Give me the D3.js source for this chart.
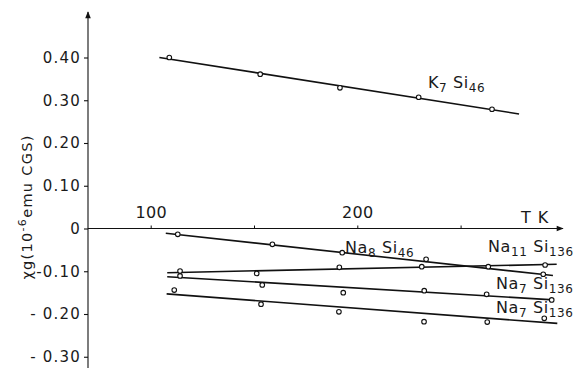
<!DOCTYPE html>
<html>
<head>
<meta charset="utf-8">
<script src="https://cdn.jsdelivr.net/npm/d3@7/dist/d3.min.js"></script>
<style>
  html, body { margin: 0; padding: 0; background: #fff; }
  svg { display: block; }
  text { font-family: "DejaVu Sans", sans-serif; fill: #1a1a1a; }
</style>
</head>
<body>
<svg id="chart" width="574" height="368"></svg>
<script>
// Magnetic susceptibility of silicon clathrates vs temperature

// Tick values and labels
const yTicks = [0.40, 0.30, 0.20, 0.10, 0, -0.10, -0.20, -0.30];
const yTickLabels = ["0.40", "0.30", "0.20", "0.10", "0", "-0.10", "- 0.20", "- 0.30"];
const xTicks = [100, 150, 200, 250];
const xTickLabels = ["100", "", "200", ""];

// K7Si46
const k7T   = [109, 153, 191.6, 229.7, 265.2];
const k7Chi = [0.400, 0.361, 0.329, 0.307, 0.279];
const k7Fit = [[104.2, 0.400], [278.3, 0.268]];

// Na8Si46
const na8T   = [113.1, 158.9, 192.7, 233.3, 290.0];
const na8Chi = [-0.0136, -0.037, -0.0566, -0.072, -0.107];
const na8Fit = [[107.3, -0.0112], [294.7, -0.110]];

// Na11Si136
const na11T   = [114.2, 151.3, 191.3, 231.2, 263.4, 290.9];
const na11Chi = [-0.0994, -0.105, -0.0908, -0.0894, -0.0894, -0.0854];
const na11Fit = [[108, -0.1034], [296.5, -0.0837]];

// Na7Si136
const na7T   = [114.2, 154, 193.2, 232.4, 262.6, 294.1];
const na7Chi = [-0.111, -0.132, -0.150, -0.1455, -0.154, -0.167];
const na7Fit = [[108, -0.1127], [294.9, -0.167]];

// lowest Si136 series
const naLowT   = [111.4, 153.4, 191.1, 232.3, 262.9, 290.5];
const naLowChi = [-0.144, -0.177, -0.195, -0.218, -0.219, -0.210];
const naLowFit = [[107.7, -0.153], [296.8, -0.222]];

const series = [
  { T: k7T,    chi: k7Chi,    fit: k7Fit },
  { T: na8T,   chi: na8Chi,   fit: na8Fit },
  { T: na11T,  chi: na11Chi,  fit: na11Fit },
  { T: na7T,   chi: na7Chi,   fit: na7Fit },
  { T: naLowT, chi: naLowChi, fit: naLowFit }
];

const svg = d3.select("#chart");

const x = d3.scaleLinear().domain([100, 200]).range([150.7, 357.3]);
const y = d3.scaleLinear().domain([0, 0.4]).range([228.5, 57.5]);
const x0 = 88;        // vertical axis position
const xEnd = 563;     // end of horizontal axis arrow

// arrow heads
const defs = svg.append("defs");
defs.append("marker")
  .attr("id", "arrow")
  .attr("viewBox", "0 0 10 10")
  .attr("refX", 9).attr("refY", 5)
  .attr("markerWidth", 9).attr("markerHeight", 7)
  .attr("markerUnits", "userSpaceOnUse")
  .attr("orient", "auto")
  .append("path").attr("d", "M0,1 L10,5 L0,9 Z").attr("fill", "#111");

// vertical axis line with arrow
svg.append("line")
  .attr("x1", x0).attr("x2", x0)
  .attr("y1", 368).attr("y2", 12)
  .attr("stroke", "#111").attr("stroke-width", 1.1)
  .attr("marker-end", "url(#arrow)");

// horizontal axis line with arrow
svg.append("line")
  .attr("x1", x0).attr("x2", xEnd)
  .attr("y1", y(0)).attr("y2", y(0))
  .attr("stroke", "#111").attr("stroke-width", 1.1)
  .attr("marker-end", "url(#arrow)");

// y axis ticks and labels
const yAxis = d3.axisLeft(y)
  .tickValues(yTicks)
  .tickSize(4)
  .tickPadding(3)
  .tickFormat((d, i) => yTickLabels[i]);
const gy = svg.append("g").attr("transform", `translate(${x0},0)`).call(yAxis);
gy.select(".domain").remove();
gy.selectAll(".tick line").attr("stroke", "#111").attr("stroke-width", 1.1);
gy.selectAll(".tick text")
  .style("font-family", "DejaVu Sans, sans-serif")
  .style("font-size", "15px")
  .style("letter-spacing", "1.2px")
  .attr("fill", "#1a1a1a");

// x axis ticks and labels (above the axis)
const xAxis = d3.axisTop(x)
  .tickValues(xTicks)
  .tickSize(3)
  .tickPadding(7.5)
  .tickFormat((d, i) => xTickLabels[i]);
const gx = svg.append("g").attr("transform", `translate(0,${y(0)})`).call(xAxis);
gx.select(".domain").remove();
gx.selectAll(".tick line").attr("stroke", "#111").attr("stroke-width", 1);
gx.selectAll(".tick text")
  .style("font-family", "DejaVu Sans, sans-serif")
  .style("font-size", "16px")
  .style("letter-spacing", "0.3px")
  .attr("fill", "#1a1a1a");

// axis titles
svg.append("text")
  .attr("x", 521).attr("y", 222.5)
  .style("font-size", "16px")
  .style("letter-spacing", "1px")
  .text("T  K");

const yTitle = svg.append("text")
  .attr("transform", "translate(32,207) rotate(-90)")
  .attr("text-anchor", "middle")
  .style("font-size", "14.5px")
  .style("letter-spacing", "1.3px");
yTitle.append("tspan").text("χg(10");
yTitle.append("tspan").attr("dy", -6).style("font-size", "11px").text("-6");
yTitle.append("tspan").attr("dy", 6).text("emu CGS)");

// fitted lines
const line = d3.line().x(d => x(d[0])).y(d => y(d[1]));
svg.append("g").selectAll("path")
  .data(series)
  .join("path")
  .attr("d", s => line(s.fit))
  .attr("fill", "none")
  .attr("stroke", "#111")
  .attr("stroke-width", 1.6);

// measured points
const pts = svg.append("g");
series.forEach(s => {
  pts.selectAll(null)
    .data(s.T.map((t, i) => [t, s.chi[i]]))
    .join("circle")
    .attr("cx", d => x(d[0]))
    .attr("cy", d => y(d[1]))
    .attr("r", 2.3)
    .attr("fill", "#fff")
    .attr("stroke", "#111")
    .attr("stroke-width", 1.1);
});

// compound labels with subscripts
function label(px, py, parts) {
  const t = svg.append("text").attr("x", px).attr("y", py)
    .style("font-size", "16px").style("letter-spacing", "0.6px");
  let shift = 0;
  parts.forEach(([str, sub]) => {
    const target = sub ? 4 : 0;
    t.append("tspan")
      .attr("dy", target - shift)
      .style("font-size", sub ? "12px" : "16px")
      .text(str);
    shift = target;
  });
}
label(428, 88, [["K", 0], ["7", 1], [" Si", 0], ["46", 1]]);
label(345, 252.5, [["Na", 0], ["8", 1], [" Si", 0], ["46", 1]]);
label(488, 251.5, [["Na", 0], ["11", 1], [" Si", 0], ["136", 1]]);
label(496, 288.5, [["Na", 0], ["7", 1], [" Si", 0], ["136", 1]]);
label(496, 313, [["Na", 0], ["7", 1], [" Si", 0], ["136", 1]]);
</script>
</body>
</html>
